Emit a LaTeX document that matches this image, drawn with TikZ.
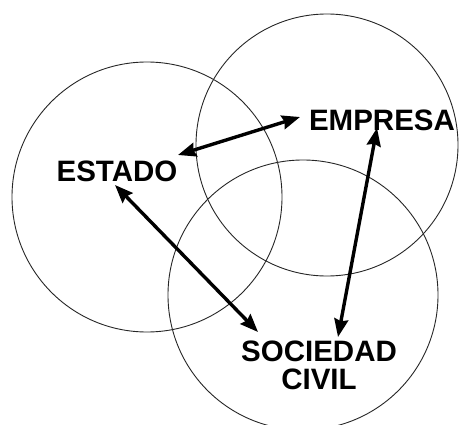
\documentclass[tikz,border=0pt]{standalone}
\usepackage{fontspec}
\setmainfont{Liberation Sans}
\usetikzlibrary{arrows.meta}
\begin{document}
\begin{tikzpicture}[x=1pt,y=-1pt,
  ring/.style={draw=black!85,line width=0.9pt},
  lbl/.style={inner sep=0pt,font=\fontsize{29.5}{28}\selectfont\bfseries,align=center},
  link/.style={line width=3.4pt,{Stealth[length=18pt,width=14pt,inset=2pt]}-{Stealth[length=18pt,width=14pt,inset=2pt]}}]
\useasboundingbox (0,0) rectangle (460,425);
\draw[ring] (147,197) circle[radius=135];
\draw[ring] (327,145) circle[radius=131];
\draw[ring] (303,295) circle[radius=135];
\node[lbl] (estado) at (117,171) {ESTADO};
\node[lbl] (empresa) at (382,120) {EMPRESA};
\node[lbl] (sociedad) at (319,365) {SOCIEDAD\\CIVIL};
\coordinate (a1) at (178,155);
\coordinate (a2) at (300,117);
\coordinate (b1) at (115,185);
\coordinate (b2) at (258,332);
\coordinate (c1) at (377,128);
\coordinate (c2) at (338,337);
\draw[link] (a1) -- (a2);
\draw[link] (b1) -- (b2);
\draw[link] (c1) -- (c2);
\end{tikzpicture}
\end{document}
